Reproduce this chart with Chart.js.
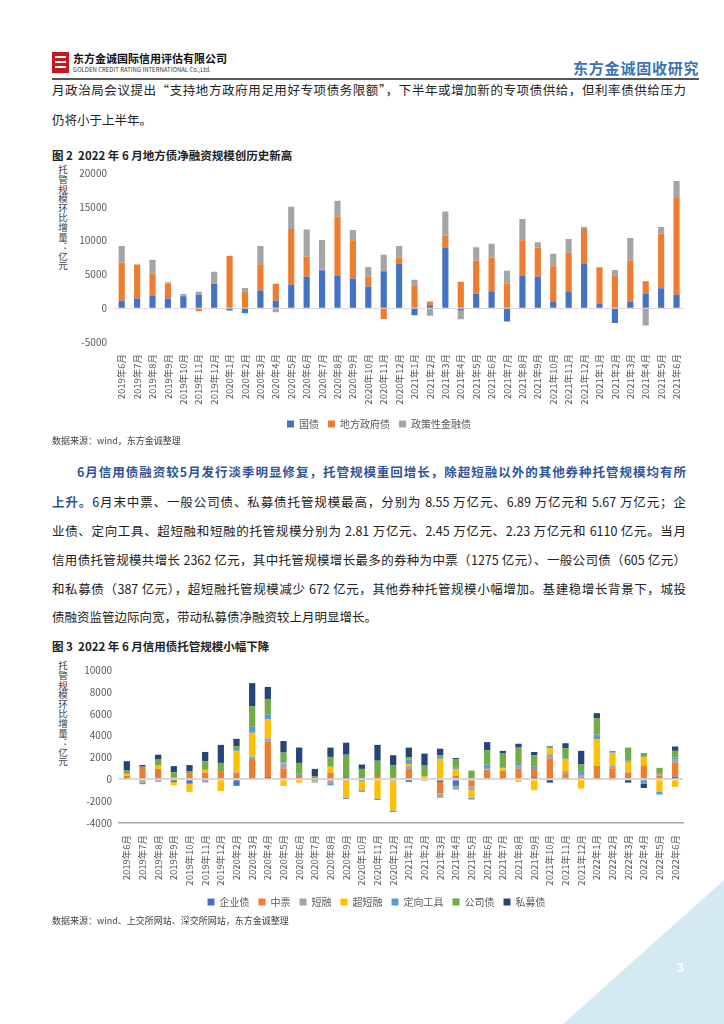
<!DOCTYPE html>
<html lang="zh-CN">
<head>
<meta charset="UTF-8">
<title>东方金诚固收研究</title>
<script src="https://cdn.jsdelivr.net/npm/chart.js"></script>
<style>
  body { margin: 0; background: #fff; font-family: "Noto Sans CJK SC", sans-serif; color: #222; }
  .page { position: relative; width: 724px; height: 1024px; overflow: hidden; background: #fff; }
  .abs { position: absolute; white-space: nowrap; }
  .line { position: absolute; left: 52px; width: 634px; font-size: 12.5px; line-height: 18px; text-align: justify; text-align-last: justify; white-space: nowrap; }
  .line.last { text-align-last: left; }
  .blue { color: #2f5597; font-weight: bold; }
  .figtitle { position: absolute; left: 52px; font-size: 11.5px; font-weight: bold; line-height: 16px; }
  .source { position: absolute; left: 52px; font-size: 9px; color: #404040; line-height: 12px; }
  .ytitle { position: absolute; writing-mode: vertical-rl; text-orientation: upright; font-size: 9.6px; line-height: 12px; color: #404040; letter-spacing: 0; }
  .chartbox { position: absolute; }
</style>
</head>
<body>
<div class="page">

  <!-- header -->
  <div class="abs" style="left:52px;top:52px;width:17px;height:21px;background:#c8161d;"></div>
  <div class="abs" style="left:55px;top:56px;width:11px;height:2px;background:#fff;"></div>
  <div class="abs" style="left:55px;top:61px;width:11px;height:2px;background:#fff;"></div>
  <div class="abs" style="left:55px;top:66px;width:11px;height:2px;background:#fff;"></div>
  <div class="abs" style="left:73px;top:52px;font-size:11px;font-weight:bold;line-height:13px;color:#111;">东方金诚国际信用评估有限公司</div>
  <div class="abs" style="left:73px;top:66px;font-size:6px;line-height:7px;color:#333;">GOLDEN CREDIT RATING INTERNATIONAL Co.,Ltd.</div>
  <div class="abs" style="left:573px;top:59px;font-size:15px;font-weight:bold;line-height:18px;letter-spacing:0.8px;color:#3b72b6;">东方金诚固收研究</div>
  <div class="abs" style="left:52px;top:78px;width:647px;height:2px;background:#555;"></div>

  <!-- text above figure 2 -->
  <div class="line" style="top:81px;">月政治局会议提出“支持地方政府用足用好专项债务限额”，下半年或增加新的专项债供给，但利率债供给压力</div>
  <div class="line last" style="top:111px;">仍将小于上半年。</div>

  <div class="figtitle" style="top:147px;">图 2&nbsp;&nbsp;2022 年 6 月地方债净融资规模创历史新高</div>
  <div class="ytitle" style="left:57px;top:165px;">托管规模环比增量：亿元</div>
  <div class="chartbox" style="left:40px;top:160px;width:652px;height:279px;"><canvas id="chart1"></canvas></div>
  <div class="source" style="top:435px;">数据来源：wind，东方金诚整理</div>

  <!-- paragraph -->
  <div class="line" style="top:463px;left:52px;"><span class="blue">&emsp;&emsp;6月信用债融资较5月发行淡季明显修复，托管规模重回增长，除超短融以外的其他券种托管规模均有所</span></div>
  <div class="line" style="top:493px;"><span class="blue">上升。</span>6月末中票、一般公司债、私募债托管规模最高，分别为 8.55 万亿元、6.89 万亿元和 5.67 万亿元；企</div>
  <div class="line" style="top:522px;">业债、定向工具、超短融和短融的托管规模分别为 2.81 万亿元、2.45 万亿元、2.23 万亿元和 6110 亿元。当月</div>
  <div class="line" style="top:551px;">信用债托管规模共增长 2362 亿元，其中托管规模增长最多的券种为中票（1275 亿元）、一般公司债（605 亿元）</div>
  <div class="line" style="top:580px;">和私募债（387 亿元），超短融托管规模减少 672 亿元，其他券种托管规模小幅增加。基建稳增长背景下，城投</div>
  <div class="line last" style="top:608px;">债融资监管边际向宽，带动私募债净融资较上月明显增长。</div>

  <div class="figtitle" style="top:638px;">图 3&nbsp;&nbsp;2022 年 6 月信用债托管规模小幅下降</div>
  <div class="ytitle" style="left:57px;top:661px;">托管规模环比增量：亿元</div>
  <div class="chartbox" style="left:40px;top:657px;width:652px;height:260px;"><canvas id="chart2"></canvas></div>
  <div class="source" style="top:915px;">数据来源：wind、上交所网站、深交所网站，东方金诚整理</div>

  <!-- corner -->
  <div class="abs" style="left:0;top:0;width:724px;height:1024px;background:#d4eaf2;clip-path:polygon(563px 1024px,724px 880px,724px 1024px);"></div>
  <div class="abs" style="left:677px;top:958px;font-size:12px;font-weight:bold;color:#fff;">3</div>
</div>

<script>
// ---- 图2 数据 (亿元) ----
const months1 = ['2019年6月','2019年7月','2019年8月','2019年9月','2019年10月','2019年11月','2019年12月',
  '2020年1月','2020年2月','2020年3月','2020年4月','2020年5月','2020年6月','2020年7月','2020年8月','2020年9月','2020年10月','2020年11月','2020年12月',
  '2021年1月','2021年2月','2021年3月','2021年4月','2021年5月','2021年6月','2021年7月','2021年8月','2021年9月','2021年10月','2021年11月','2021年12月',
  '2021年1月','2021年2月','2021年3月','2021年4月','2021年5月','2021年6月'];
const guozhai = [1100,1450,1850,1450,1750,2000,3600,-350,-750,2600,1100,3500,4650,5600,4750,4400,3200,5450,6550,-1050,450,8900,-350,2150,2500,-1950,4850,4700,900,2500,6550,700,-2200,1000,2100,2950,2000];
const difangzhai = [5650,5000,3250,2150,100,-450,50,7750,2450,3900,2500,8200,3000,100,8800,5650,1500,-1600,900,3400,550,1800,3900,4900,4950,3600,5200,4250,5300,5700,5150,5300,4800,6050,1900,8100,14300];
const zhengcezhai = [2450,0,2050,250,250,450,1750,0,550,2700,-600,3300,4000,4400,2350,1500,1400,2450,1750,800,-1100,3600,-1300,1950,2100,1950,3150,800,1850,2050,300,100,850,3350,-2550,950,2500];

// ---- 图3 数据 (亿元) ----
const months2 = ['2019年6月','2019年7月','2019年8月','2019年9月','2019年10月','2019年11月','2019年12月',
  '2020年2月','2020年3月','2020年4月','2020年5月','2020年6月','2020年7月','2020年8月','2020年9月','2020年10月','2020年11月','2020年12月',
  '2021年1月','2021年2月','2021年3月','2021年4月','2021年5月','2021年6月','2021年7月','2021年8月','2021年9月','2021年10月','2021年11月','2021年12月',
  '2022年1月','2022年2月','2022年3月','2022年4月','2022年5月','2022年6月'];
const qiyezhai    = [0,0,150,-250,-400,-150,0,-600,0,200,0,0,-50,0,200,-150,0,0,-250,0,-250,-600,-100,0,100,0,200,0,0,0,0,0,0,-150,0,250];
const zhongpiao   = [300,1150,800,150,500,600,750,600,1850,3250,1000,400,0,600,-150,0,300,200,950,0,-1050,300,-550,850,650,950,750,1900,500,250,1250,1000,600,1200,350,1300];
const duanrong    = [50,-300,-250,0,0,-150,0,50,250,300,450,0,0,-350,0,0,0,-200,250,-150,-400,-350,-350,0,0,350,0,400,250,150,0,200,100,100,150,300];
const chaoduanrong= [150,0,300,-300,-750,250,-1080,1900,2150,1750,-600,-300,-150,550,-1550,-850,-1750,-2650,200,300,1800,650,-700,100,250,-250,-1000,550,1050,-850,2400,1200,900,750,-1150,-700];
const dingxiang   = [0,0,0,0,0,50,0,100,550,450,100,150,-100,-200,-100,-150,-150,-150,400,0,100,100,-150,400,100,200,200,200,100,350,450,50,150,-250,-250,150];
const gongsizhai  = [300,-150,550,500,250,750,750,350,1900,1400,900,950,250,900,2050,950,1400,1100,200,950,300,800,800,1300,1250,1400,1050,0,950,600,1500,150,1150,350,550,600];
const simuzhai    = [850,150,450,550,550,850,1650,700,2100,1100,1050,1400,700,850,1100,400,1450,900,900,1100,600,100,0,750,250,350,300,-300,450,1250,450,-100,-300,-400,0,400];

const tickFont = { family: 'Noto Sans CJK SC', size: 10 };
const textColor = '#595959';

function makeOptions(yMin, yMax, yStep, zeroWidth, axisDash, pad, yWidth, xHeight) {
  return {
    responsive: true,
    maintainAspectRatio: false,
    animation: false,
    layout: { padding: pad },
    plugins: {
      tooltip: { enabled: false },
      legend: {
        position: 'bottom',
        labels: { boxWidth: 7, boxHeight: 7, color: textColor, font: { family: 'Noto Sans CJK SC', size: 10 }, padding: 9 }
      }
    },
    scales: {
      x: {
        stacked: true,
        grid: { display: false },
        border: axisDash ? { display: true, color: '#a6a6a6', width: 1.5, dash: axisDash.dash, dashOffset: axisDash.offset } : { display: false },
        ticks: { color: textColor, font: { family: 'Noto Sans CJK SC', size: 9.5 }, minRotation: 90, maxRotation: 90, autoSkip: false, padding: 4 },
        afterFit: function(scale) { scale.height = xHeight; }
      },
      y: {
        stacked: true,
        min: yMin, max: yMax,
        border: { display: false },
        grid: {
          drawTicks: false,
          lineWidth: zeroWidth,
          color: function(c) { return c.tick && c.tick.value === 0 ? '#d9d9d9' : 'rgba(0,0,0,0)'; }
        },
        ticks: { stepSize: yStep, color: textColor, font: tickFont, padding: 7, callback: function(v) { return String(v); } },
        afterFit: function(scale) { scale.width = yWidth; }
      }
    }
  };
}

function ds(label, data, color) {
  return { label: label, data: data, backgroundColor: color, barPercentage: 0.4, categoryPercentage: 1 };
}

new Chart(document.getElementById('chart1').getContext('2d'), {
  type: 'bar',
  data: {
    labels: months1,
    datasets: [
      ds('国债', guozhai, '#4472c4'),
      ds('地方政府债', difangzhai, '#ed7d31'),
      ds('政策性金融债', zhengcezhai, '#a5a5a5')
    ]
  },
  options: makeOptions(-5000, 20000, 5000, 1, null, { left: 30, right: 4, top: 12, bottom: 0 }, 44, 68)
});

new Chart(document.getElementById('chart2').getContext('2d'), {
  type: 'bar',
  data: {
    labels: months2,
    datasets: [
      ds('企业债', qiyezhai, '#4472c4'),
      ds('中票', zhongpiao, '#ed7d31'),
      ds('短融', duanrong, '#a5a5a5'),
      ds('超短融', chaoduanrong, '#ffc000'),
      ds('定向工具', dingxiang, '#5b9bd5'),
      ds('公司债', gongsizhai, '#70ad47'),
      ds('私募债', simuzhai, '#264478')
    ]
  },
  options: makeOptions(-4000, 10000, 2000, 2, { dash: [10, 5.66], offset: 12.83 }, { left: 30, right: 9, top: 12, bottom: 0 }, 49, 65)
});
</script>
</body>
</html>
